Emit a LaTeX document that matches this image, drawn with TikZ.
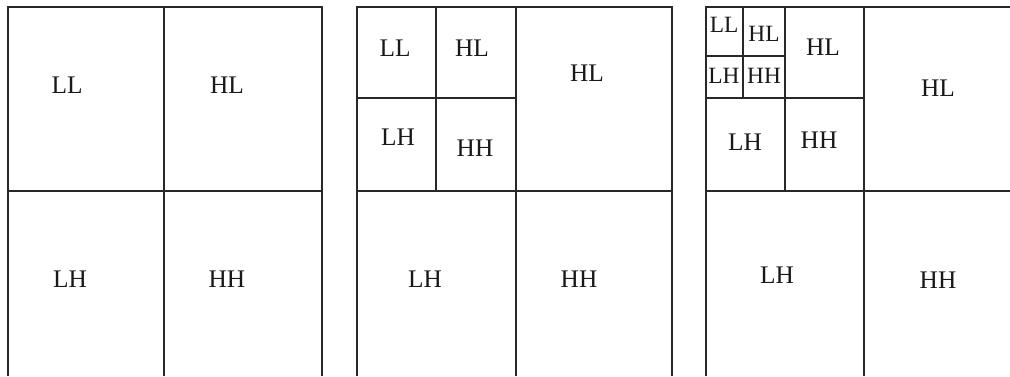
\documentclass[tikz,border=0pt]{standalone}
\usepackage{fontspec}
\setmainfont{Liberation Serif}
\definecolor{wline}{RGB}{40,40,40}
\definecolor{wtext}{RGB}{25,25,25}
\usetikzlibrary{positioning}
\tikzset{
  subband/.style={text=wtext,inner sep=0pt,font=\fontsize{19}{21}\selectfont},
  tinyband/.style={subband,font=\fontsize{17.5}{19}\selectfont},
  gridline/.style={draw=wline,line width=1.5pt}
}
\begin{document}
\begin{tikzpicture}[x=0.75pt,y=-0.75pt]
  \useasboundingbox (0,0) rectangle (1010,376);
  % level 1
  \draw[gridline] (8,376) -- (8,7) -- (322,7) -- (322,376);
  \draw[gridline] (164,7) -- (164,376);
  \draw[gridline] (8,191) -- (322,191);
  \node[subband] (a-ll) at (67,85) {LL};
  \node[subband] (a-hl) at (227,85) {HL};
  \node[subband] (a-lh) at (70,279) {LH};
  \node[subband] (a-hh) at (227,279) {HH};
  % level 2
  \draw[gridline] (357,376) -- (357,7) -- (672,7) -- (672,376);
  \draw[gridline] (516,7) -- (516,376);
  \draw[gridline] (357,191) -- (672,191);
  \draw[gridline] (436,7) -- (436,191);
  \draw[gridline] (357,98) -- (516,98);
  \node[subband] (b-ll) at (395,48) {LL};
  \node[subband] (b-hl) at (472,48) {HL};
  \node[subband] (b-lh) at (398,137) {LH};
  \node[subband] (b-hh) at (475,148) {HH};
  \node[subband] (b-hl2) at (587,73) {HL};
  \node[subband] (b-lh2) at (425,279) {LH};
  \node[subband] (b-hh2) at (579,279) {HH};
  % level 3
  \draw[gridline] (706,376) -- (706,7) -- (1015,7);
  \draw[gridline] (864,7) -- (864,376);
  \draw[gridline] (706,191) -- (1015,191);
  \draw[gridline] (785,7) -- (785,191);
  \draw[gridline] (706,98) -- (864,98);
  \draw[gridline] (743,7) -- (743,98);
  \draw[gridline] (706,56) -- (785,56);
  \node[tinyband] (c-ll) at (724,25) {LL};
  \node[tinyband] (c-hl) at (764,34) {HL};
  \node[tinyband] (c-lh) at (724,76) {LH};
  \node[tinyband] (c-hh) at (764,76) {HH};
  \node[subband] (c-hl2) at (823,47) {HL};
  \node[subband] (c-lh2) at (745,142) {LH};
  \node[subband] (c-hh2) at (819,140) {HH};
  \node[subband] (c-hl3) at (938,88) {HL};
  \node[subband] (c-lh3) at (777,275) {LH};
  \node[subband] (c-hh3) at (938,280) {HH};
\end{tikzpicture}
\end{document}
